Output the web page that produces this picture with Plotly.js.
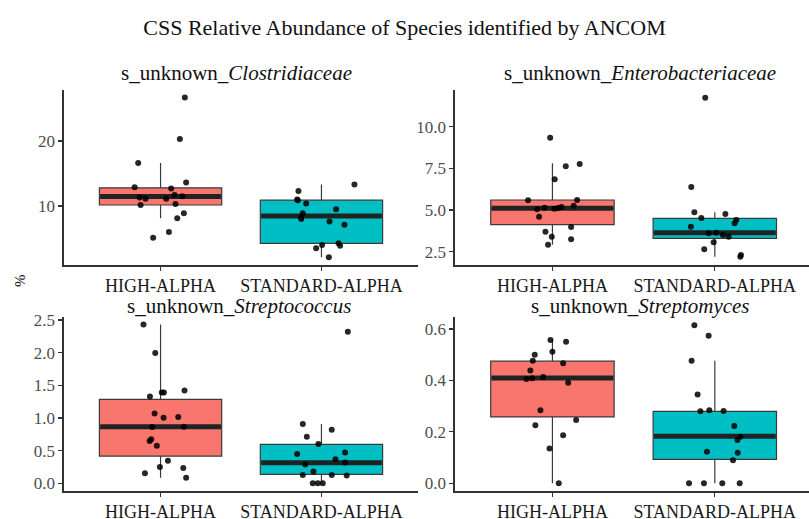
<!DOCTYPE html>
<html>
<head>
<meta charset="utf-8">
<script src="https://cdn.plot.ly/plotly-3.0.1.min.js"></script>
<style>html,body{margin:0;padding:0;background:#fff;}#chart{width:809px;height:519px;}</style>
</head>
<body>
<div id="chart"></div>
<script>
// ---- data ----
const groups = ["HIGH-ALPHA", "STANDARD-ALPHA"];
const panelTitles = [
  "s_unknown_<i>Clostridiaceae</i>",
  "s_unknown_<i>Enterobacteriaceae</i>",
  "s_unknown_<i>Streptococcus</i>",
  "s_unknown_<i>Streptomyces</i>"
];

// Clostridiaceae
const clostHigh = [26.7, 20.3, 16.6, 12.9, 13.6, 12.7, 11.3, 11.1, 11.1, 11.7, 11.5, 10.15, 10.3, 8.9, 8.1, 6.0, 5.1];
const clostHighJit = [0.151, 0.120, -0.139, -0.161, 0.159, 0.066, -0.130, -0.093, 0.035, 0.087, 0.135, -0.124, 0.093, 0.145, 0.104, 0.052, -0.046];
const clostStd = [12.3, 13.3, 11.0, 10.9, 10.4, 9.5, 8.9, 8.25, 8.0, 7.6, 7.1, 4.25, 3.9, 4.0, 3.5, 2.1];
const clostStdJit = [-0.143, 0.205, -0.151, -0.147, -0.095, 0.091, -0.116, -0.126, -0.126, 0.050, 0.143, 0.106, 0.116, 0.004, -0.033, 0.046];
const clostStats = { lf: [8.1, 2.1], q1: [10.15, 4.25], med: [11.45, 8.45], q3: [12.8, 10.9], uf: [16.6, 13.3] };

// Enterobacteriaceae
const enteroHigh = [9.34, 7.76, 7.62, 6.84, 5.58, 5.6, 5.04, 5.14, 5.08, 5.12, 5.18, 5.26, 4.6, 3.98, 3.7, 3.4, 3.24, 2.92];
const enteroHighJit = [-0.014, 0.168, 0.082, 0.014, -0.150, 0.152, -0.094, -0.049, 0.012, 0.035, 0.055, 0.131, -0.082, 0.115, -0.043, -0.004, 0.115, -0.027];
const enteroStd = [11.74, 6.38, 4.86, 4.52, 4.76, 4.4, 4.2, 4.0, 3.6, 3.64, 3.5, 3.4, 3.06, 2.64, 2.3, 2.2];
const enteroStdJit = [-0.059, -0.145, -0.126, -0.083, 0.065, 0.132, 0.122, -0.147, -0.038, 0.009, 0.050, 0.085, -0.007, -0.065, 0.161, 0.157];
const enteroStats = { lf: [2.92, 2.2], q1: [4.12, 3.3], med: [5.1, 3.64], q3: [5.6, 4.5], uf: [7.8, 4.86] };

// Streptococcus
const strepcHigh = [2.43, 1.995, 1.33, 1.39, 1.39, 1.42, 1.07, 1.005, 1.015, 0.862, 0.867, 0.673, 0.648, 0.577, 0.25, 0.347, 0.235, 0.153, 0.087];
const strepcHighJit = [-0.106, -0.033, -0.066, 0.008, 0.021, 0.149, -0.037, 0.019, 0.110, -0.052, 0.145, -0.058, -0.068, -0.023, -0.004, 0.046, 0.141, -0.097, 0.159];
const strepcStd = [2.32, 0.908, 0.82, 0.714, 0.602, 0.449, 0.474, 0.367, 0.29, 0.32, 0.18, 0.128, 0.128, 0.122, 0, 0, 0];
const strepcStdJit = [0.164, -0.116, 0.064, -0.091, -0.019, -0.151, 0.147, 0.087, -0.101, 0.147, -0.050, -0.116, 0.064, 0.157, -0.054, -0.023, 0.008];
const strepcStats = { lf: [0.087, 0], q1: [0.418, 0.138], med: [0.867, 0.316], q3: [1.286, 0.597], uf: [2.43, 0.908] };

// Streptomyces
const strepmHigh = [0.557, 0.551, 0.512, 0.50, 0.477, 0.467, 0.439, 0.406, 0.409, 0.413, 0.391, 0.284, 0.246, 0.226, 0.187, 0.135, 0];
const strepmHighJit = [-0.012, 0.084, 0, -0.109, -0.121, 0.066, -0.136, -0.160, -0.125, -0.057, 0.097, -0.074, 0.146, -0.105, 0.066, -0.018, 0.039];
const strepmStd = [0.615, 0.574, 0.477, 0.345, 0.28, 0.284, 0.281, 0.223, 0.181, 0.168, 0.123, 0.119, 0.09, 0, 0, 0, 0];
const strepmStdJit = [-0.126, -0.038, -0.143, -0.106, -0.089, -0.034, 0.054, 0.120, 0.157, 0.139, -0.048, 0.141, 0.112, -0.159, -0.067, 0.046, 0.153];
const strepmStats = { lf: [0, 0], q1: [0.258, 0.093], med: [0.41, 0.183], q3: [0.475, 0.28], uf: [0.557, 0.477] };

const yTicks = [[10, 20], [2.5, 5.0, 7.5, 10.0], [0, 0.5, 1.0, 1.5, 2.0, 2.5], [0, 0.2, 0.4, 0.6]];
const yTickText = [["10", "20"], ["2.5", "5.0", "7.5", "10.0"], ["0.0", "0.5", "1.0", "1.5", "2.0", "2.5"], ["0.0", "0.2", "0.4", "0.6"]];

// ---- build ----
const fills = ["#F8766D", "#00BFC4"];
const boxW = 0.76;
const serif = "Liberation Serif, Times New Roman, serif";
const panels = [
  { hi: clostHigh, hiJ: clostHighJit, sd: clostStd, sdJ: clostStdJit, st: clostStats },
  { hi: enteroHigh, hiJ: enteroHighJit, sd: enteroStd, sdJ: enteroStdJit, st: enteroStats },
  { hi: strepcHigh, hiJ: strepcHighJit, sd: strepcStd, sdJ: strepcStdJit, st: strepcStats },
  { hi: strepmHigh, hiJ: strepmHighJit, sd: strepmStd, sdJ: strepmStdJit, st: strepmStats }
];

const traces = [];
panels.forEach((p, i) => {
  const xa = i === 0 ? "x" : "x" + (i + 1);
  const ya = i === 0 ? "y" : "y" + (i + 1);
  [0, 1].forEach(g => {
    traces.push({
      type: "box", xaxis: xa, yaxis: ya,
      x: [g], q1: [p.st.q1[g]], median: [p.st.med[g]], q3: [p.st.q3[g]],
      lowerfence: [p.st.lf[g]], upperfence: [p.st.uf[g]],
      width: boxW, whiskerwidth: 0,
      fillcolor: fills[g], line: { color: "#3a3a3a", width: 1.2 },
      boxpoints: false, hoverinfo: "skip", showlegend: false
    });
    traces.push({
      type: "scatter", mode: "lines", xaxis: xa, yaxis: ya,
      x: [g - boxW / 2 + 0.005, g + boxW / 2 - 0.005], y: [p.st.med[g], p.st.med[g]],
      line: { color: "#1e2424", width: 5 }, hoverinfo: "skip", showlegend: false
    });
  });
  traces.push({
    type: "scatter", mode: "markers", xaxis: xa, yaxis: ya,
    x: p.hi.map((v, k) => 0 + p.hiJ[k]).concat(p.sd.map((v, k) => 1 + p.sdJ[k])),
    y: p.hi.concat(p.sd),
    marker: { color: "rgba(0,0,0,0.85)", size: 6 },
    hoverinfo: "skip", showlegend: false
  });
});

const xDom = [[64 / 809, 418 / 809], [455 / 809, 1]];
const yDom = [[(519 - 265) / 519, (519 - 90) / 519], [(519 - 491) / 519, (519 - 316.7) / 519]];
const yRanges = [[0.92, 27.85], [1.70, 12.2], [-0.117, 2.55], [-0.03, 0.648]];
const xRanges = [[-0.6, 1.6], [-0.6, 1.58]];

const layout = {
  width: 809, height: 519,
  margin: { l: 0, r: 0, t: 0, b: 0 },
  paper_bgcolor: "#fff", plot_bgcolor: "#fff",
  font: { family: serif, color: "#222" },
  title: {
    text: "CSS Relative Abundance of Species identified by ANCOM",
    x: 0.5, xanchor: "center", xref: "paper",
    y: 1 - 27 / 519, yref: "container", yanchor: "middle",
    font: { family: serif, size: 22, color: "#111" }
  },
  annotations: [],
  showlegend: false
};

for (let i = 0; i < 4; i++) {
  const col = i % 2, row = Math.floor(i / 2);
  const sfx = i === 0 ? "" : String(i + 1);
  layout["xaxis" + sfx] = {
    domain: xDom[col], range: xRanges[col], anchor: "y" + sfx,
    tickvals: [0, 1], ticktext: groups,
    showline: true, linecolor: "#333", linewidth: 1.6,
    ticks: "outside", ticklen: 4, tickcolor: "#333", tickwidth: 1.2,
    showgrid: false, zeroline: false, fixedrange: true,
    tickfont: { family: serif, size: 18, color: "#1a1a1a" }
  };
  layout["yaxis" + sfx] = {
    domain: yDom[row], range: yRanges[i], anchor: "x" + sfx,
    tickvals: yTicks[i], ticktext: yTickText[i],
    showline: true, linecolor: "#333", linewidth: 1.6,
    ticks: "outside", ticklen: 4, tickcolor: "#333", tickwidth: 1.2,
    ticklabelstandoff: 0,
    showgrid: false, zeroline: false, fixedrange: true,
    tickfont: { family: serif, size: 17, color: "#4d4d4d" }
  };
}

const titlePos = [[236, 73], [640, 73], [239, 306], [640, 306]];
panelTitles.forEach((t, i) => {
  layout.annotations.push({
    text: t, xref: "paper", yref: "paper",
    x: titlePos[i][0] / 809, y: 1 - titlePos[i][1] / 519,
    xanchor: "center", yanchor: "middle", showarrow: false,
    font: { family: serif, size: 21, color: "#111" }
  });
});
layout.annotations.push({
  text: "%", xref: "paper", yref: "paper",
  x: 20 / 809, y: 1 - 281 / 519, xanchor: "center", yanchor: "middle",
  textangle: -90, showarrow: false,
  font: { family: serif, size: 15, color: "#111" }
});

Plotly.newPlot("chart", traces, layout, { displayModeBar: false, staticPlot: true });
</script>
</body>
</html>
